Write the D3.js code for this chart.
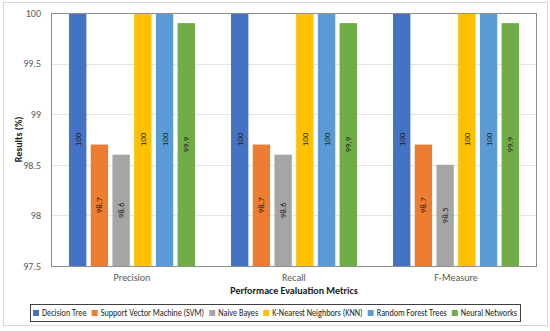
<!DOCTYPE html>
<html>
<head>
<meta charset="UTF-8">
<title>Results</title>
<script src="https://cdn.jsdelivr.net/npm/d3@7"></script>
<style>
  body { margin: 0; background: #fff; }
  text { font-family: Calibri, Carlito, Lato, sans-serif; }
</style>
</head>
<body>
<svg width="550" height="331" id="chart"></svg>
<script>
    // 数据
    const metrics = ["Precision", "Recall", "F-Measure"];
    const models = ["Decision Tree", "Support Vector Machine (SVM)", "Naive Bayes",
        "K-Nearest Neighbors (KNN)", "Random Forest Trees", "Neural Networks"];
    const colors = ["#4472C4", "#ED7D31", "#A5A5A5", "#FFC000", "#5B9BD5", "#70AD47"];
    const decisionTree = [100, 100, 100];
    const svm = [98.7, 98.7, 98.7];
    const naiveBayes = [98.6, 98.6, 98.5];
    const knn = [100, 100, 100];
    const randomForest = [100, 100, 100];
    const neuralNet = [99.9, 99.9, 99.9];
    const yTicks = [97.5, 98, 98.5, 99, 99.5, 100];

    const series = [decisionTree, svm, naiveBayes, knn, randomForest, neuralNet];

    const svg = d3.select("#chart");
    const pLeft = 51, pRight = 537, pTop = 13, pBottom = 266;

    // 外框
    svg.append("rect")
        .attr("x", 3.5).attr("y", 2.5).attr("width", 544).attr("height", 323)
        .attr("fill", "#fff").attr("stroke", "#d9d9d9");

    const x0 = d3.scaleBand().domain(metrics).range([pLeft, pRight]).paddingInner(0).paddingOuter(0);
    const x1 = d3.scaleBand().domain(d3.range(models.length))
        .range([18, x0.bandwidth() - 18]).paddingInner(0.2).paddingOuter(0);
    const y = d3.scaleLinear().domain([97.5, 100]).range([pBottom, pTop]);

    // 网格线
    svg.append("g").selectAll("line").data(yTicks.slice(1, -1)).join("line")
        .attr("x1", pLeft).attr("x2", pRight)
        .attr("y1", d => Math.round(y(d)) + 0.5).attr("y2", d => Math.round(y(d)) + 0.5)
        .attr("stroke", "#e3e3e3");

    // y轴
    const yAxis = svg.append("g")
        .attr("transform", `translate(${pLeft},0)`)
        .call(d3.axisLeft(y).tickValues(yTicks).tickSize(0).tickPadding(10).tickFormat(d3.format("")));
    yAxis.select(".domain").remove();
    yAxis.selectAll("text").style("font-size", "10px").attr("fill", "#595959");

    // 柱子
    const groups = svg.append("g").selectAll("g").data(metrics).join("g")
        .attr("transform", d => `translate(${x0(d)},0)`);

    groups.selectAll("rect")
        .data((d, i) => series.map((s, j) => ({ v: s[i], j })))
        .join("rect")
        .attr("x", d => x1(d.j))
        .attr("y", d => y(d.v))
        .attr("width", x1.bandwidth())
        .attr("height", d => pBottom - y(d.v))
        .attr("fill", d => colors[d.j]);

    // 数值标签 (竖排, 从下往上读)
    groups.selectAll("text")
        .data((d, i) => series.map((s, j) => ({ v: s[i], j })))
        .join("text")
        .attr("transform", d => `translate(${x1(d.j) + x1.bandwidth() / 2 + 3},${(y(d.v) + pBottom) / 2}) rotate(-90)`)
        .attr("text-anchor", "middle")
        .style("font-size", "9px")
        .attr("fill", "#1a1a1a")
        .text(d => d.v);

    // 绘图区边框
    svg.append("rect")
        .attr("x", pLeft + 0.5).attr("y", pTop + 0.5)
        .attr("width", pRight - pLeft - 1).attr("height", pBottom - pTop)
        .attr("fill", "none").attr("stroke", "#8c8c8c");

    // x轴标签
    svg.append("g").selectAll("text").data(metrics).join("text")
        .attr("x", d => x0(d) + x0.bandwidth() / 2)
        .attr("y", 281)
        .attr("text-anchor", "middle")
        .style("font-size", "10px")
        .attr("fill", "#595959")
        .text(d => d);

    // 轴标题
    svg.append("text")
        .attr("x", (pLeft + pRight) / 2).attr("y", 294)
        .attr("text-anchor", "middle")
        .style("font-size", "10px").style("font-weight", "bold")
        .attr("fill", "#1a1a1a")
        .text("Performace Evaluation Metrics");

    svg.append("text")
        .attr("transform", `translate(22,${(pTop + pBottom) / 2}) rotate(-90)`)
        .attr("text-anchor", "middle")
        .style("font-size", "10px").style("font-weight", "bold")
        .attr("fill", "#1a1a1a")
        .text("Results (%)");

    // 图例
    const legend = svg.append("g");
    legend.append("rect")
        .attr("x", 30.5).attr("y", 304.5).attr("width", 490).attr("height", 17)
        .attr("fill", "#fff").attr("stroke", "#404040");
    const items = legend.selectAll("g").data(models).join("g");
    const labels = items.append("g");
    labels.append("text")
        .attr("y", 316.5)
        .style("font-size", "10px")
        .attr("fill", "#1a1a1a")
        .text(d => d);
    // 按文字宽度排布, 放不下就横向压缩
    const gap = 5, sw = 6, sp = 3, room = 484;
    let widths = [];
    labels.select("text").each(function () { widths.push(this.getComputedTextLength()); });
    const fixed = models.length * (sw + sp) + (models.length - 1) * gap;
    const k = Math.min(1, (room - fixed) / d3.sum(widths));
    widths = widths.map(w => w * k);
    const total = d3.sum(widths) + fixed;
    let cx = 30 + (490 - total) / 2;
    items.each(function (d, i) {
        const g = d3.select(this);
        g.append("rect")
            .attr("x", cx).attr("y", 310).attr("width", sw).attr("height", sw)
            .attr("fill", colors[i]);
        g.select("g").attr("transform", `translate(${cx + sw + sp},0) scale(${k},1)`);
        cx += sw + sp + widths[i] + gap;
    });
</script>
</body>
</html>
